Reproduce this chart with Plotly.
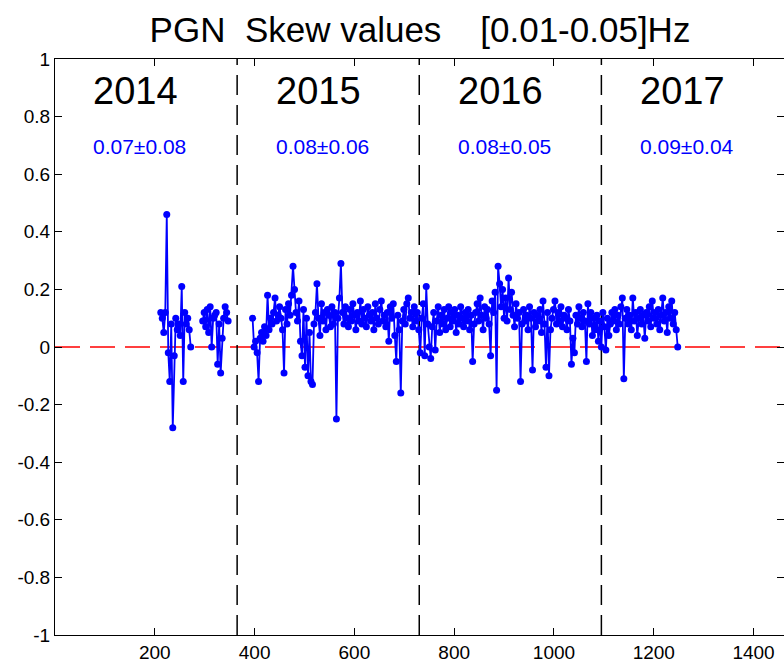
import plotly.graph_objects as go

# ---------------- data ----------------
title_text = "PGN  Skew values    [0.01-0.05]Hz"
years = ["2014", "2015", "2016", "2017"]
year_starts = [0, 365, 730, 1095]
year_bounds = [365, 730, 1095]
stats = ["0.07\u00b10.08", "0.08\u00b10.06", "0.08\u00b10.05", "0.09\u00b10.04"]
x_ticks = [200, 400, 600, 800, 1000, 1200, 1400]
y_ticks = [-1, -0.8, -0.6, -0.4, -0.2, 0, 0.2, 0.4, 0.6, 0.8, 1]
y_tick_labels = ["-1", "-0.8", "-0.6", "-0.4", "-0.2", "0", "0.2", "0.4", "0.6", "0.8", "1"]
day_step = 3

# segment 1 (2014, first block), starts at day 212
seg1_start = 212
seg1_vals = [0.12, 0.10, 0.05, 0.12, 0.46, -0.02, -0.12, 0.08, -0.28, -0.03,
             0.10, 0.06, 0.08, 0.04, 0.21, -0.12, 0.12, 0.08, 0.10, 0.06, 0.00]

# segment 2 (2014, second block), starts at day 296
seg2_start = 296
seg2_vals = [0.09, 0.12, 0.07, 0.13, 0.05, 0.14, 0.00, 0.10, 0.11, 0.12,
             -0.06, 0.08, -0.09, 0.03, 0.10, 0.14, 0.12, 0.09]

# segment 3 (2015-2017), starts at day 396
seg3_start = 396
seg3_vals = [
    0.10, 0.00, 0.02, -0.02, -0.12, 0.03, 0.05, 0.02, 0.07, 0.04,
    0.18, 0.06, 0.10, 0.08, 0.12, 0.17, 0.09, 0.11, 0.14, 0.10,
    0.06, -0.09, 0.13, 0.08, 0.15, 0.11, 0.18, 0.28, 0.20, 0.12,
    0.09, 0.16, 0.02, -0.03, 0.13, -0.07, 0.10, -0.10, 0.05, -0.12,
    -0.13, 0.08, 0.12, 0.22, 0.10, 0.04, 0.15, 0.09, 0.12, 0.06,
    0.13, 0.11, 0.07, 0.14, 0.08, 0.12, -0.25, 0.10, 0.17, 0.29,
    0.12, 0.08, 0.14, 0.10, 0.07, 0.13, 0.09, 0.15, 0.11, 0.06,
    0.12, 0.09, 0.16, 0.08, 0.13, 0.10, 0.07, 0.14, 0.11, 0.09,
    0.12, 0.06, 0.15, 0.10, 0.08, 0.13, 0.16, 0.09, 0.11, 0.07,
    0.12, 0.02, 0.14, 0.10, 0.15, 0.04, -0.05, 0.11, 0.06, -0.16,
    0.09, 0.13, 0.08, 0.15, 0.17, 0.10, 0.12, 0.07, 0.14, 0.09,
    0.12, 0.06, -0.02, 0.10, 0.15, -0.03, 0.21, 0.08, 0.00, -0.04,
    0.07, 0.12, -0.01, 0.09, 0.14, 0.05, 0.11, 0.08, 0.13, 0.06,
    0.10, 0.14, 0.07, 0.12, 0.09, 0.13, 0.05, 0.11, 0.08, 0.14,
    0.10, 0.07, 0.12, 0.09, 0.13, 0.06, 0.11, -0.05, 0.08, 0.12,
    0.15, 0.09, 0.17, 0.11, 0.06, 0.14, 0.10, 0.13, 0.08, -0.03,
    0.16, 0.12, 0.19, -0.15, 0.28, 0.22, 0.14, 0.20, 0.10, 0.17,
    0.09, 0.24, 0.13, 0.19, 0.11, 0.07, 0.15, 0.10, 0.12, -0.12,
    0.08, 0.13, 0.09, 0.11, 0.06, 0.14, 0.10, -0.08, 0.12, 0.07,
    0.11, 0.09, 0.13, 0.05, 0.16, 0.08, -0.07, 0.12, -0.10, 0.06,
    0.10, 0.13, 0.16, 0.08, 0.12, 0.09, 0.14, 0.07, 0.11, 0.10,
    0.06, 0.13, 0.09, -0.06, 0.03, -0.02, 0.11, 0.08, 0.14, 0.10,
    0.07, 0.12, 0.09, -0.05, 0.15, 0.08, 0.12, 0.04, 0.10, 0.06,
    0.11, 0.02, 0.09, 0.00, 0.12, 0.07, -0.01, 0.10, 0.04, 0.08,
    0.12, 0.09, 0.13, 0.06, 0.11, 0.08, 0.14, 0.17, -0.11, 0.10,
    0.13, 0.08, 0.11, 0.06, 0.17, 0.09, 0.12, 0.04, 0.10, 0.13,
    0.08, 0.11, 0.03, 0.12, 0.09, 0.14, 0.07, 0.16, 0.10, 0.12,
    0.08, 0.13, 0.06, 0.11, 0.17, 0.09, 0.12, 0.05, 0.14, 0.10,
    0.16, 0.08, 0.12, 0.06, 0.00,
]

x_range = [0, 1461]
y_range = [-1, 1]

# ---------------- build ----------------
xs, ys = [], []
for start, vals in [(seg1_start, seg1_vals), (seg2_start, seg2_vals), (seg3_start, seg3_vals)]:
    for i, v in enumerate(vals):
        xs.append(start + day_step * i)
        ys.append(v)
    xs.append(None)
    ys.append(None)

FONT = "Liberation Sans, Arial, Helvetica, sans-serif"

fig = go.Figure()

# red dashed zero line
fig.add_trace(go.Scatter(
    x=x_range, y=[0, 0], mode="lines",
    line=dict(color="#ff0000", width=1.5, dash="25px,10px"),
    hoverinfo="skip", showlegend=False))

# black dashed year boundaries
for b in year_bounds:
    fig.add_trace(go.Scatter(
        x=[b, b], y=y_range, mode="lines",
        line=dict(color="black", width=1.5, dash="20px,10px"),
        hoverinfo="skip", showlegend=False))

# data
fig.add_trace(go.Scatter(
    x=xs, y=ys, mode="lines+markers", connectgaps=False,
    line=dict(color="#0000ff", width=1.8),
    marker=dict(color="#0000ff", size=7),
    showlegend=False))

annotations = []
for yr, st, s in zip(years, year_starts, stats):
    annotations.append(dict(x=st + 73, y=0.89, xref="x", yref="y", text=yr,
                            showarrow=False, xanchor="left", yanchor="middle",
                            font=dict(family=FONT, size=38, color="black")))
    annotations.append(dict(x=st + 73, y=0.695, xref="x", yref="y", text=s,
                            showarrow=False, xanchor="left", yanchor="middle",
                            font=dict(family=FONT, size=21, color="#0000ff")))

fig.update_layout(
    width=784, height=668,
    margin=dict(l=55, r=0, t=59, b=33),
    paper_bgcolor="white", plot_bgcolor="white",
    title=dict(text=title_text, x=420 / 784, xref="container", xanchor="center",
               y=1 - 30 / 668, yref="container", yanchor="middle",
               font=dict(family=FONT, size=35, color="black")),
    annotations=annotations,
    font=dict(family=FONT, color="black"),
)
fig.update_xaxes(range=x_range, tickvals=x_ticks, ticks="inside", ticklen=7,
                 tickcolor="black", showline=True, linecolor="black", linewidth=1,
                 mirror="ticks", showgrid=False, zeroline=False,
                 tickfont=dict(family=FONT, size=19, color="black"))
fig.update_yaxes(range=y_range, tickvals=y_ticks, ticktext=y_tick_labels,
                 ticks="inside", ticklen=7,
                 tickcolor="black", showline=True, linecolor="black", linewidth=1,
                 mirror="ticks", showgrid=False, zeroline=False,
                 tickfont=dict(family=FONT, size=19, color="black"))

fig.write_html("out.html")
